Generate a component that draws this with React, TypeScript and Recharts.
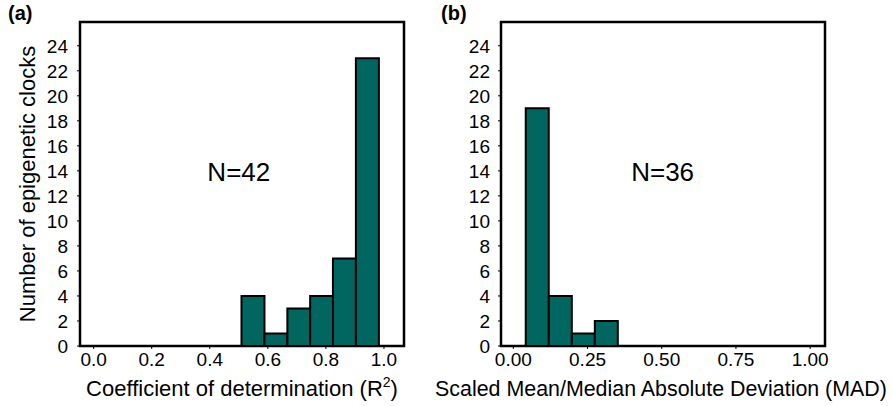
import React from 'react'
import { BarChart, Bar, XAxis, YAxis, ReferenceDot, ReferenceArea, Label } from 'recharts'

// y axis (shared)
const countTicks = [0, 2, 4, 6, 8, 10, 12, 14, 16, 18, 20, 22, 24]
const countDomain = [0, 25.9]

// panel (a): R^2 histogram, bin centres and counts
const r2BinMids = [0.5485, 0.6275, 0.7065, 0.785, 0.8635, 0.9425]
const r2Counts = [4, 1, 3, 4, 7, 23]
const r2Ticks = [0, 0.2, 0.4, 0.6, 0.8, 1.0]
const r2Domain = [-0.047, 1.069]

// panel (b): MAD histogram
const madBinMids = [0.0806, 0.1583, 0.2358, 0.3133]
const madCounts = [19, 4, 1, 2]
const madTicks = [0, 0.25, 0.5, 0.75, 1.0]
const madDomain = [-0.0415, 1.05]

const FONT = '"Liberation Sans", Arial, Helvetica, sans-serif'
const TEAL = '#00665f'

const r2Data = r2BinMids.map((mid, i) => ({ mid, count: r2Counts[i] }))
const madData = madBinMids.map((mid, i) => ({ mid, count: madCounts[i] }))

const tickStyle = { fill: '#000', fontSize: 19, fontFamily: FONT }

const R2Title = (props: any) => {
  const vb = props.viewBox
  return (
    <text x={vb.x + vb.width / 2} y={vb.y + 50} textAnchor="middle" fontSize={22} fontFamily={FONT} fill="#000">
      Coefficient of determination (R<tspan dy={-9} fontSize={14}>2</tspan><tspan dy={9}>)</tspan>
    </text>
  )
}

const MadTitle = (props: any) => {
  const vb = props.viewBox
  return (
    <text x={vb.x + vb.width / 2 - 2} y={vb.y + 50} textAnchor="middle" fontSize={21.4} fontFamily={FONT} fill="#000">
      Scaled Mean/Median Absolute Deviation (MAD)
    </text>
  )
}

const YTitle = (props: any) => {
  const vb = props.viewBox
  const cy = vb.y + vb.height / 2
  return (
    <text x={27} y={cy} transform={`rotate(-90, 27, ${cy})`} textAnchor="middle" dominantBaseline="central" fontSize={22} fontFamily={FONT} fill="#000">
      Number of epigenetic clocks
    </text>
  )
}

const panelLabel = { position: 'absolute' as const, top: 2, fontFamily: FONT, fontWeight: 'bold' as const, fontSize: 20 }

const App = () => {
  return (
    <div style={{ position: 'absolute', left: 0, top: 0, width: 893, height: 406, background: '#fff' }}>
      <div style={{ position: 'absolute', left: 0, top: 0 }}>
        <BarChart width={443} height={406} data={r2Data} margin={{ top: 22, right: 39, bottom: 0, left: 0 }} barCategoryGap={0} barGap={0}>
          <XAxis type="number" dataKey="mid" domain={r2Domain} allowDataOverflow ticks={r2Ticks} interval={0}
            tickFormatter={(v: number) => v.toFixed(1)} height={60} tickSize={3} tickMargin={4}
            axisLine={false} tickLine={{ stroke: '#000' }} tick={tickStyle}>
            <Label content={R2Title} />
          </XAxis>
          <YAxis domain={countDomain} ticks={countTicks} interval={0} allowDataOverflow width={80} tickSize={3} tickMargin={9}
            axisLine={false} tickLine={{ stroke: '#000' }} tick={tickStyle}>
            <Label content={YTitle} />
          </YAxis>
          <Bar dataKey="count" fill={TEAL} stroke="#000" strokeWidth={2} isAnimationActive={false} />
          <ReferenceArea x1={r2Domain[0]} x2={r2Domain[1]} y1={countDomain[0]} y2={countDomain[1]}
            fill="none" fillOpacity={0} stroke="#000" strokeWidth={2.5} strokeOpacity={1} />
          <ReferenceDot x={0.5} y={13.9} r={0} fill="none" stroke="none"
            label={{ value: 'N=42', position: 'center', fontSize: 26, fontFamily: FONT, fill: '#000' }} />
        </BarChart>
      </div>

      <div style={{ position: 'absolute', left: 420, top: 0 }}>
        <BarChart width={473} height={406} data={madData} margin={{ top: 22, right: 68, bottom: 0, left: 23 }} barCategoryGap={0} barGap={0}>
          <XAxis type="number" dataKey="mid" domain={madDomain} allowDataOverflow ticks={madTicks} interval={0}
            tickFormatter={(v: number) => v.toFixed(2)} height={60} tickSize={3} tickMargin={4}
            axisLine={false} tickLine={{ stroke: '#000' }} tick={tickStyle}>
            <Label content={MadTitle} />
          </XAxis>
          <YAxis domain={countDomain} ticks={countTicks} interval={0} allowDataOverflow width={58} tickSize={3} tickMargin={8}
            axisLine={false} tickLine={{ stroke: '#000' }} tick={tickStyle} />
          <Bar dataKey="count" fill={TEAL} stroke="#000" strokeWidth={2} isAnimationActive={false} />
          <ReferenceArea x1={madDomain[0]} x2={madDomain[1]} y1={countDomain[0]} y2={countDomain[1]}
            fill="none" fillOpacity={0} stroke="#000" strokeWidth={2.5} strokeOpacity={1} />
          <ReferenceDot x={0.503} y={13.9} r={0} fill="none" stroke="none"
            label={{ value: 'N=36', position: 'center', fontSize: 26, fontFamily: FONT, fill: '#000' }} />
        </BarChart>
      </div>

      <div style={{ ...panelLabel, left: 8 }}>(a)</div>
      <div style={{ ...panelLabel, left: 441 }}>(b)</div>
    </div>
  )
}

export default App
